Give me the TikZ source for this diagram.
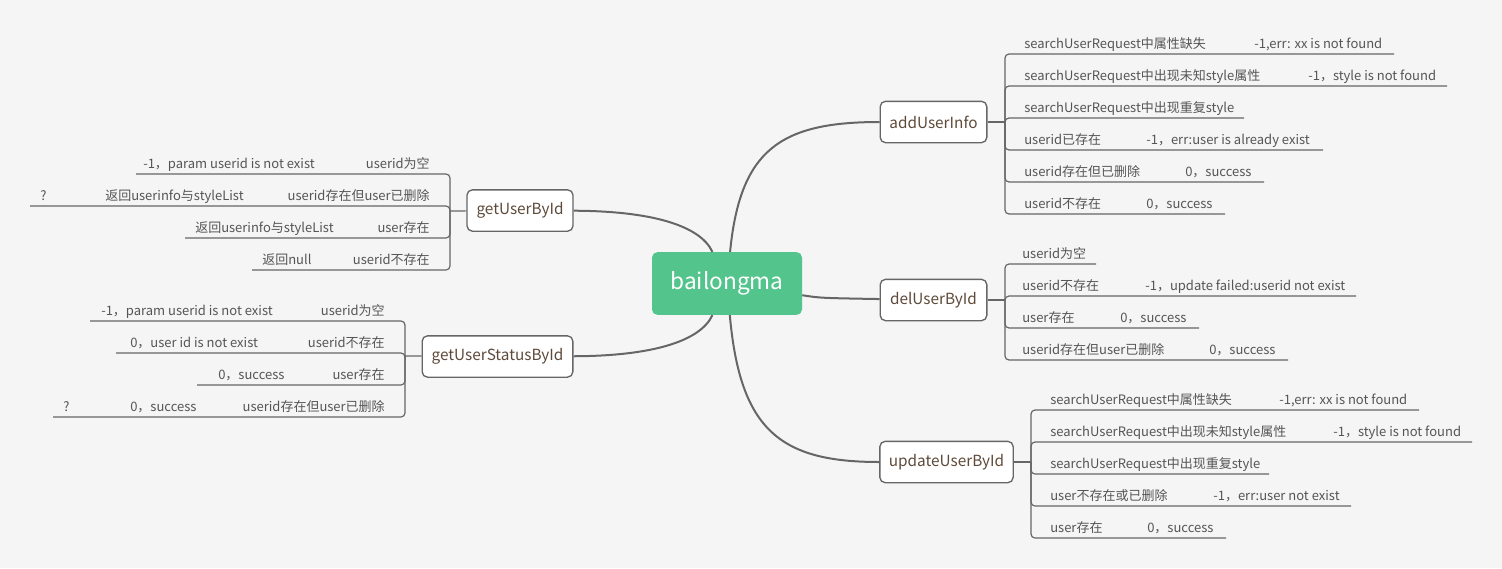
\documentclass[tikz,border=0pt]{standalone}
\usepackage{fontspec}
\setmainfont{Noto Sans CJK SC}
\usepackage{xcolor}
\usepackage{tikz}
\definecolor{paper}{HTML}{F5F5F5}
\definecolor{rootgreen}{HTML}{52C48C}
\definecolor{wire}{HTML}{666666}
\definecolor{leaftext}{HTML}{555555}
\definecolor{topictext}{HTML}{5E4A3A}

\begin{document}
\begin{tikzpicture}[x=0.75pt,y=-0.75pt,
  root/.style={fill=rootgreen,text=white,rounded corners=4pt,minimum width=112.5pt,minimum height=47pt,font=\fontsize{17}{20}\selectfont},
  topic/.style={draw=wire,fill=white,line width=1pt,rounded corners=4pt,text=topictext,minimum height=31pt,inner xsep=2pt,font=\fontsize{11.5}{14}\selectfont},
  link/.style={draw=wire,line width=1.5pt},
  bracket/.style={draw=wire,line width=0.9pt,rounded corners=3pt},
  leaf/.style={text=leaftext,inner sep=0pt,font=\fontsize{9.75}{12}\selectfont}]
\path[use as bounding box,fill=paper] (0,0) rectangle (1502,568);

\node[root] (root) at (727,283.5) {bailongma};
\node[topic,minimum width=80pt] (addUserInfo) at (933.5,122) {addUserInfo};
\node[topic,minimum width=80pt] (delUserById) at (933.5,300) {delUserById};
\node[topic,minimum width=100pt] (updateUserById) at (946.5,462) {updateUserById};
\node[topic,minimum width=79.5pt] (getUserById) at (520,210.5) {getUserById};
\node[topic,minimum width=113pt] (getUserStatusById) at (497.5,356.5) {getUserStatusById};

\draw[link] (root) .. controls (740,150) and (780,122) .. (addUserInfo);
\draw[link] (root) .. controls (820,298) .. (delUserById);
\draw[link] (root) .. controls (740,430) and (780,462) .. (updateUserById);
\draw[link] (root) .. controls (700,225) and (650,211) .. (getUserById);
\draw[link] (root) .. controls (700,342) and (650,356) .. (getUserStatusById);

\coordinate (adJ) at (1005,122);
\coordinate (deJ) at (1005,300);
\coordinate (upJ) at (1031,462);
\coordinate (guJ) at (450,211);
\coordinate (gsJ) at (405,356);
\draw[bracket] (addUserInfo) -- (adJ);
\draw[bracket] (delUserById) -- (deJ);
\draw[bracket] (updateUserById) -- (upJ);
\draw[bracket] (getUserById) -- (guJ);
\draw[bracket] (getUserStatusById) -- (gsJ);

% addUserInfo
\foreach \yl/\ta/\xb/\tb/\xe [count=\i] in {
  54/searchUserRequest中属性缺失/1254/{-1,err: xx is not found}/1394,
  86/searchUserRequest中出现未知style属性/1308/{-1，style is not found}/1447,
  118/searchUserRequest中出现重复style/1200/{}/1244,
  150/userid已存在/1146/{-1，err:user is already exist}/1323,
  182/userid存在但已删除/1185/{0，success}/1264,
  214/userid不存在/1146/{0，success}/1225}{
  \coordinate (ad\i) at (\xe,\yl);
  \node[leaf,anchor=base west] (ad\i-a) at (1024,\yl-6) {\ta};
  \node[leaf,anchor=base west] (ad\i-b) at (\xb,\yl-6) {\tb};
  \draw[bracket] (adJ) |- (ad\i);
}

% delUserById
\foreach \yl/\ta/\xb/\tb/\xe [count=\i] in {
  264/userid为空/1090/{}/1096,
  296/userid不存在/1145/{-1，update failed:userid not exist}/1356,
  328/user存在/1120/{0，success}/1199,
  360/userid存在但user已删除/1209/{0，success}/1288}{
  \coordinate (de\i) at (\xe,\yl);
  \node[leaf,anchor=base west] (de\i-a) at (1022,\yl-6) {\ta};
  \node[leaf,anchor=base west] (de\i-b) at (\xb,\yl-6) {\tb};
  \draw[bracket] (deJ) |- (de\i);
}

% updateUserById
\foreach \yl/\ta/\xb/\tb/\xe [count=\i] in {
  410/searchUserRequest中属性缺失/1279/{-1,err: xx is not found}/1419,
  442/searchUserRequest中出现未知style属性/1333/{-1，style is not found}/1472,
  474/searchUserRequest中出现重复style/1250/{}/1269,
  506/user不存在或已删除/1213/{-1，err:user not exist}/1351,
  538/user存在/1147/{0，success}/1226}{
  \coordinate (up\i) at (\xe,\yl);
  \node[leaf,anchor=base west] (up\i-a) at (1050,\yl-6) {\ta};
  \node[leaf,anchor=base west] (up\i-b) at (\xb,\yl-6) {\tb};
  \draw[bracket] (upJ) |- (up\i);
}

% getUserById
\foreach \yl/\ta/\xb/\tb/\xc/\tc/\xs [count=\i] in {
  174/userid为空/143/{-1，param userid is not exist}/140/{}/136,
  206/userid存在但user已删除/105/返回userinfo与styleList/40/?/30,
  238/user存在/195/返回userinfo与styleList/190/{}/185,
  270/userid不存在/262/返回null/256/{}/252}{
  \coordinate (gu\i) at (\xs,\yl);
  \node[leaf,anchor=base east] (gu\i-a) at (430,\yl-6) {\ta};
  \node[leaf,anchor=base west] (gu\i-b) at (\xb,\yl-6) {\tb};
  \node[leaf,anchor=base west] (gu\i-c) at (\xc,\yl-6) {\tc};
  \draw[bracket] (guJ) |- (gu\i);
}

% getUserStatusById
\foreach \yl/\ta/\xb/\tb/\xc/\tc/\xs [count=\i] in {
  321/userid为空/101/{-1，param userid is not exist}/95/{}/90,
  353/userid不存在/130/{0，user id is not exist}/120/{}/116,
  385/user存在/218/{0，success}/200/{}/197,
  417/userid存在但user已删除/130/{0，success}/63/?/53}{
  \coordinate (gs\i) at (\xs,\yl);
  \node[leaf,anchor=base east] (gs\i-a) at (385,\yl-6) {\ta};
  \node[leaf,anchor=base west] (gs\i-b) at (\xb,\yl-6) {\tb};
  \node[leaf,anchor=base west] (gs\i-c) at (\xc,\yl-6) {\tc};
  \draw[bracket] (gsJ) |- (gs\i);
}
\end{tikzpicture}
\end{document}
